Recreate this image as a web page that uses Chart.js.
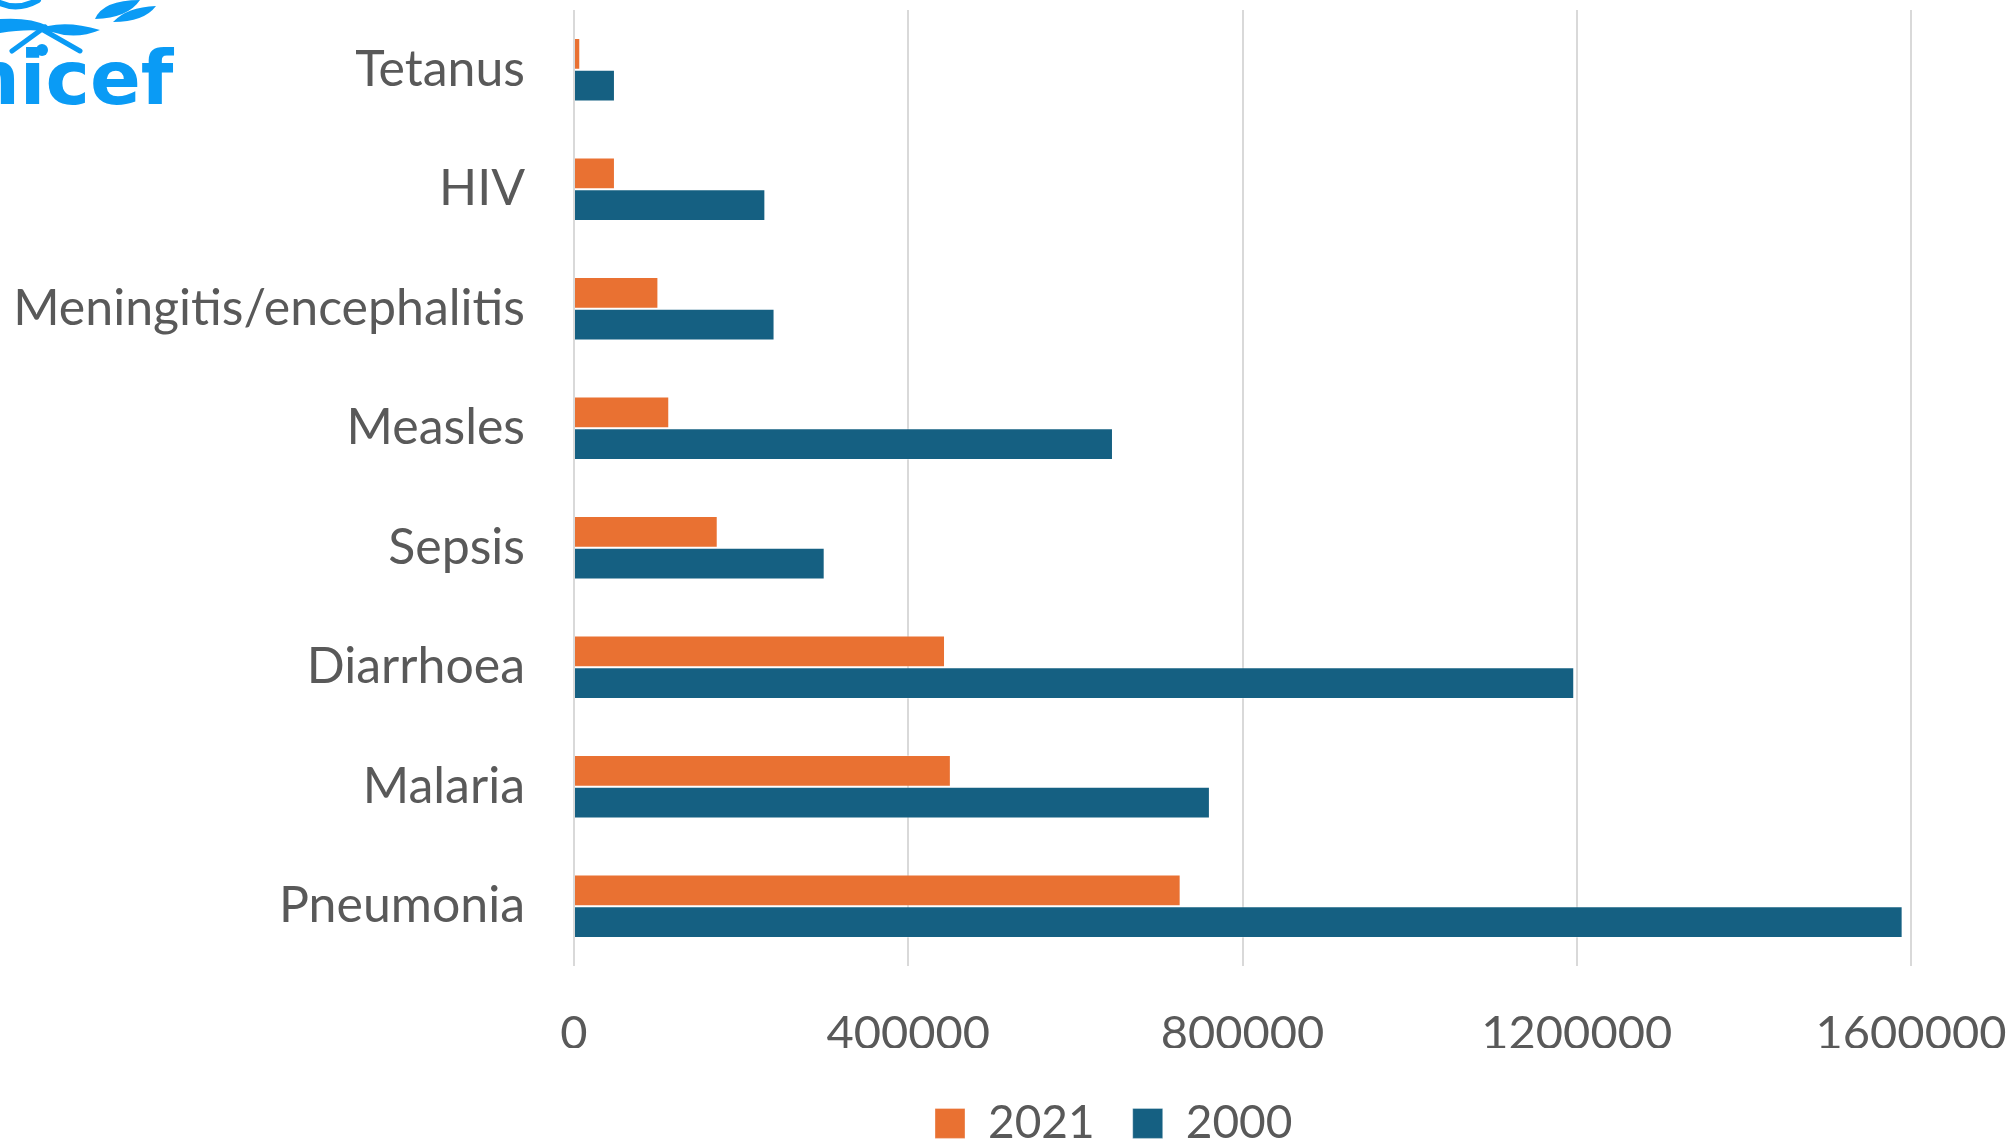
<!DOCTYPE html>
<html>
<head>
<meta charset="utf-8">
<script src="https://cdn.jsdelivr.net/npm/chart.js@4/dist/chart.umd.min.js"></script>
<style>
  html, body { margin: 0; padding: 0; background: #fff; }
  #wrap { position: relative; width: 2014px; height: 1142px; overflow: hidden; }
  #wrap canvas { position: absolute; left: 0; top: 0; }
  #logo { position: absolute; left: 0; top: 0; }
  #logoText { position: absolute; left: -87px; top: 41px; font-family: "DejaVu Sans", sans-serif; font-weight: bold;
              font-size: 75px; color: #0A9BF5; line-height: 1; white-space: nowrap; }
</style>
</head>
<body>
<div id="wrap">
  <canvas id="causesChart" width="2014" height="1142"></canvas>
  <svg id="logo" width="170" height="62" viewBox="0 0 170 62">
    <g fill="none" stroke="#0A9BF5" stroke-linecap="round">
      <path d="M0 3 Q18 11 38 0" stroke-width="6" />
      <path d="M12 51 L45 27" stroke-width="5" />
      <path d="M38 27 L80 51" stroke-width="5" />
    </g>
    <g fill="#0A9BF5">
      <path d="M95 19 Q103 0 140 0 Q128 18 95 19 Z" />
      <path d="M113 22 Q127 7 156 6 Q144 22 113 22 Z" />
      <path d="M0 19 Q30 17 48 26 Q70 21 100 30 Q76 40 52 32 Q30 28 0 33 Z" />
      <circle cx="42" cy="50" r="6" />
    </g>
  </svg>
  <div id="logoText">unicef</div>
</div>
<script>
// values (under-five deaths by cause)
const causes = ['Tetanus', 'HIV', 'Meningitis/encephalitis', 'Measles', 'Sepsis', 'Diarrhoea', 'Malaria', 'Pneumonia'];
const deaths2021 = [7500, 49000, 101000, 114000, 172000, 444000, 451000, 726000];
const deaths2000 = [49000, 229000, 240000, 645000, 300000, 1197000, 761000, 1590000];
const xTicks = [0, 400000, 800000, 1200000, 1600000];

const textGrey = '#595959';
const legendFontSize = 46;
const legendPad = 38;

// move the legend to where the reference has it
const legendPlacer = {
    id: 'legendPlacer',
    afterLayout(chart) {
        const lg = chart.legend;
        if (!lg || !lg.lineWidths) return;
        const startX = (lg.left + legendPad + lg.right - lg.lineWidths[0]) / 2;
        const dx = 935 - startX;
        const dy = 1128 - (lg.top + legendPad + legendFontSize * 1.2 / 2);
        lg.left += dx; lg.right += dx;
        lg.top += dy; lg.bottom += dy;
    }
};

new Chart(document.getElementById('causesChart').getContext('2d'), {
    type: 'bar',
    data: {
        labels: causes,
        datasets: [{
            label: '2021',
            data: deaths2021,
            backgroundColor: '#E97132',
            borderColor: 'rgba(255,255,255,0.35)',
            borderWidth: 1
        }, {
            label: '2000',
            data: deaths2000,
            backgroundColor: '#156082',
            borderColor: 'rgba(255,255,255,0.35)',
            borderWidth: 1
        }]
    },
    options: {
        indexAxis: 'y',
        responsive: false,
        animation: false,
        devicePixelRatio: 1,
        layout: { padding: { top: 10, right: 103, left: 0, bottom: 0 } },
        datasets: { bar: { barPercentage: 1, categoryPercentage: 0.53 } },
        scales: {
            x: {
                min: 0,
                max: 1600000,
                afterBuildTicks: axis => { axis.ticks = xTicks.map(v => ({ value: v })); },
                afterFit: axis => {
                    axis.paddingLeft = 0;
                    axis.paddingRight = 0;
                    axis.height = 1142 - 966 - axis.chart.legend.height;
                },
                grid: { color: '#D9D9D9', lineWidth: 2, drawTicks: false },
                border: { display: false },
                ticks: {
                    color: textGrey,
                    padding: 40,
                    maxRotation: 0,
                    font: { family: 'Lato', size: 47 },
                    callback: v => String(v)
                }
            },
            y: {
                grid: { display: false },
                border: { display: false },
                afterFit: axis => {
                    axis.width = 574;
                    axis.paddingTop = 0;
                    axis.paddingBottom = 0;
                },
                ticks: {
                    color: textGrey,
                    padding: 41,
                    font: { family: 'Lato', size: 50 }
                }
            }
        },
        plugins: {
            legend: {
                position: 'bottom',
                labels: {
                    color: textGrey,
                    boxWidth: 30,
                    boxHeight: 30,
                    padding: legendPad,
                    font: { family: 'Lato', size: legendFontSize }
                }
            },
            tooltip: { enabled: false }
        }
    },
    plugins: [legendPlacer]
});
</script>
</body>
</html>
